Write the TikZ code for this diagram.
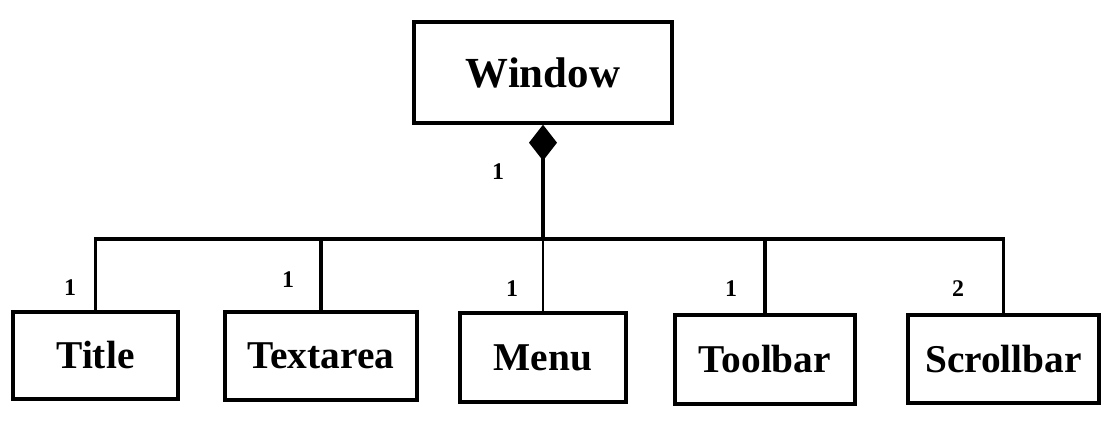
\documentclass[tikz,border=0pt]{standalone}
\usepackage{fontspec}
\setmainfont{Liberation Serif}
\usepackage{tikz}
\usetikzlibrary{arrows.meta,positioning}
\tikzset{
	classbox/.style={draw, line width=2.4pt, align=center, inner sep=0pt, font=\fontsize{28}{32}\selectfont\bfseries},
	link/.style={line width=2.4pt},
	mult/.style={font=\fontsize{17}{19}\selectfont\bfseries, inner sep=0pt}
}
\begin{document}
\begin{tikzpicture}[x=0.025cm, y=-0.025cm]
	\useasboundingbox (0,0) rectangle (1111,425);
	
	%% -- Whole (top)
	\node[classbox, minimum width=6.45cm, minimum height=2.525cm,
	font=\fontsize{30.5}{34}\selectfont\bfseries] (window) at (543,72.5) {Window};
	
	%% -- Parts (bottom row)
	\node[classbox, minimum width=4.125cm, minimum height=2.175cm] (title) at (95.5,355.5) {Title};
	\node[classbox, minimum width=4.8cm, minimum height=2.2cm] (textarea) at (321,356) {Textarea};
	\node[classbox, minimum width=4.15cm, minimum height=2.225cm] (menu) at (543,357.5) {Menu};
	\node[classbox, minimum width=4.5cm, minimum height=2.225cm] (toolbar) at (765,359.5) {Toolbar};
	\node[classbox, minimum width=4.775cm, minimum height=2.2cm] (scrollbar) at (1003.5,359) {Scrollbar};
	
	%% -- Composition: diamond at the whole
	\coordinate (bus) at (543,239);
	\draw[link, -{Diamond[length=0.9cm, width=0.7cm]}] (bus) -- (window.south);
	
	%% -- Bus down to each part
	\draw[link] (bus) -| (title.north);
	\draw[link] (bus) -| (textarea.north);
	\draw[line width=1.5pt] (bus) -- (menu.north);
	\draw[link] (bus) -| (toolbar.north);
	\draw[link] (bus) -| (scrollbar.north);
	
	%% -- Multiplicities
	\node[mult] (mwindow) at (498,172) {1};
	\node[mult] (mtitle) at (70,288) {1};
	\node[mult] (mtextarea) at (288,280) {1};
	\node[mult] (mmenu) at (512,289) {1};
	\node[mult] (mtoolbar) at (731,289) {1};
	\node[mult] (mscrollbar) at (958,289) {2};
	
\end{tikzpicture}
\end{document}
